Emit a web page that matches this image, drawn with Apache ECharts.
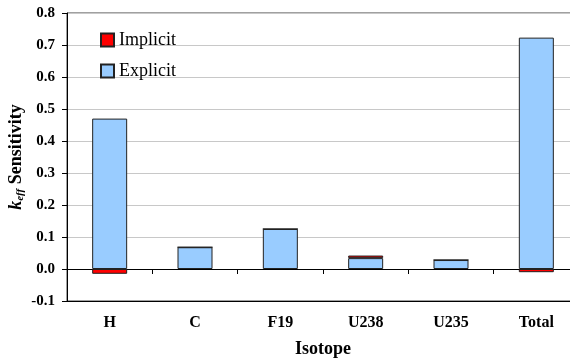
<!DOCTYPE html>
<html>
<head>
<meta charset="utf-8">
<script src="https://cdn.jsdelivr.net/npm/echarts@6/dist/echarts.min.js"></script>
<style>
html,body{margin:0;padding:0;background:#fff;}
#c{width:570px;height:358px;}
</style>
</head>
<body>
<div id="c"></div>
<script>
var categories = ['H', 'C', 'F19', 'U238', 'U235', 'Total'];
var explicitValues = [0.470, 0.068, 0.125, 0.034, 0.028, 0.723];
var implicitValues = [-0.015, 0, 0, 0.008, 0, -0.010];
var yTicks = { min: -0.1, max: 0.8, interval: 0.1 };

var serif = '"Liberation Serif", "Times New Roman", serif';
var chart = echarts.init(document.getElementById('c'), null, { renderer: 'canvas' });
chart.setOption({
  backgroundColor: '#ffffff',
  animation: false,
  grid: { left: 67, top: 13, width: 512, height: 288, show: true, borderColor: '#404040', borderWidth: 1,
    backgroundColor: 'transparent', containLabel: false, outerBoundsMode: 'none' },
  legend: {
    orient: 'vertical', left: 95, top: 26,
    itemWidth: 13, itemHeight: 13, itemGap: 13, icon: 'rect',
    data: ['Implicit', 'Explicit'],
    textStyle: { fontFamily: serif, fontSize: 18, color: '#000' }
  },
  xAxis: [{
    type: 'category', data: categories, position: 'bottom',
    axisLine: { onZero: false, lineStyle: { color: '#000', width: 1 } },
    axisTick: { show: false },
    axisLabel: { margin: 14, fontFamily: serif, fontWeight: 'bold', fontSize: 16, color: '#000' },
    name: 'Isotope', nameLocation: 'middle', nameGap: 39,
    nameTextStyle: { fontFamily: serif, fontWeight: 'bold', fontSize: 18, color: '#000' }
  }, {
    type: 'category', data: categories, position: 'top',
    axisLine: { onZero: true, lineStyle: { color: '#000', width: 1 } },
    axisTick: { show: true, inside: true, length: 5, lineStyle: { color: '#000' } },
    axisLabel: { show: false }
  }],
  yAxis: {
    type: 'value', min: yTicks.min, max: yTicks.max, interval: yTicks.interval,
    axisLine: { show: true, onZero: false, lineStyle: { color: '#000', width: 1 } },
    axisTick: { show: true, length: 5, lineStyle: { color: '#000' } },
    splitLine: { lineStyle: { color: '#c8c8c8', width: 1 } },
    axisLabel: { margin: 12, fontFamily: serif, fontWeight: 'bold', fontSize: 15, color: '#000',
      formatter: function (v) { return (Math.round(v * 10) / 10).toFixed(1); } },
    name: '{k|k}{s|eff}{n| Sensitivity}', nameLocation: 'middle', nameGap: 40, nameRotate: 90,
    nameMoveOverlap: false,
    nameTextStyle: {
      fontFamily: serif, fontWeight: 'bold', fontSize: 17, color: '#000',
      rich: {
        k: { fontFamily: serif, fontStyle: 'italic', fontWeight: 'bold', fontSize: 18, lineHeight: 22, verticalAlign: 'middle' },
        s: { fontFamily: serif, fontStyle: 'italic', fontWeight: 'bold', fontSize: 11, lineHeight: 22, verticalAlign: 'bottom', padding: [0, 0, 1, 0] },
        n: { fontFamily: serif, fontWeight: 'bold', fontSize: 18, lineHeight: 22, verticalAlign: 'middle' }
      }
    }
  },
  series: [{
    name: 'Explicit', type: 'bar', stack: 'a', data: explicitValues, barWidth: 35,
    itemStyle: { color: '#99ccff', borderColor: '#222', borderWidth: 1 }
  }, {
    name: 'Implicit', type: 'bar', stack: 'a', data: implicitValues, barWidth: 35,
    itemStyle: { color: '#ff0000', borderColor: '#222', borderWidth: 1 }
  }]
});
</script>
</body>
</html>
